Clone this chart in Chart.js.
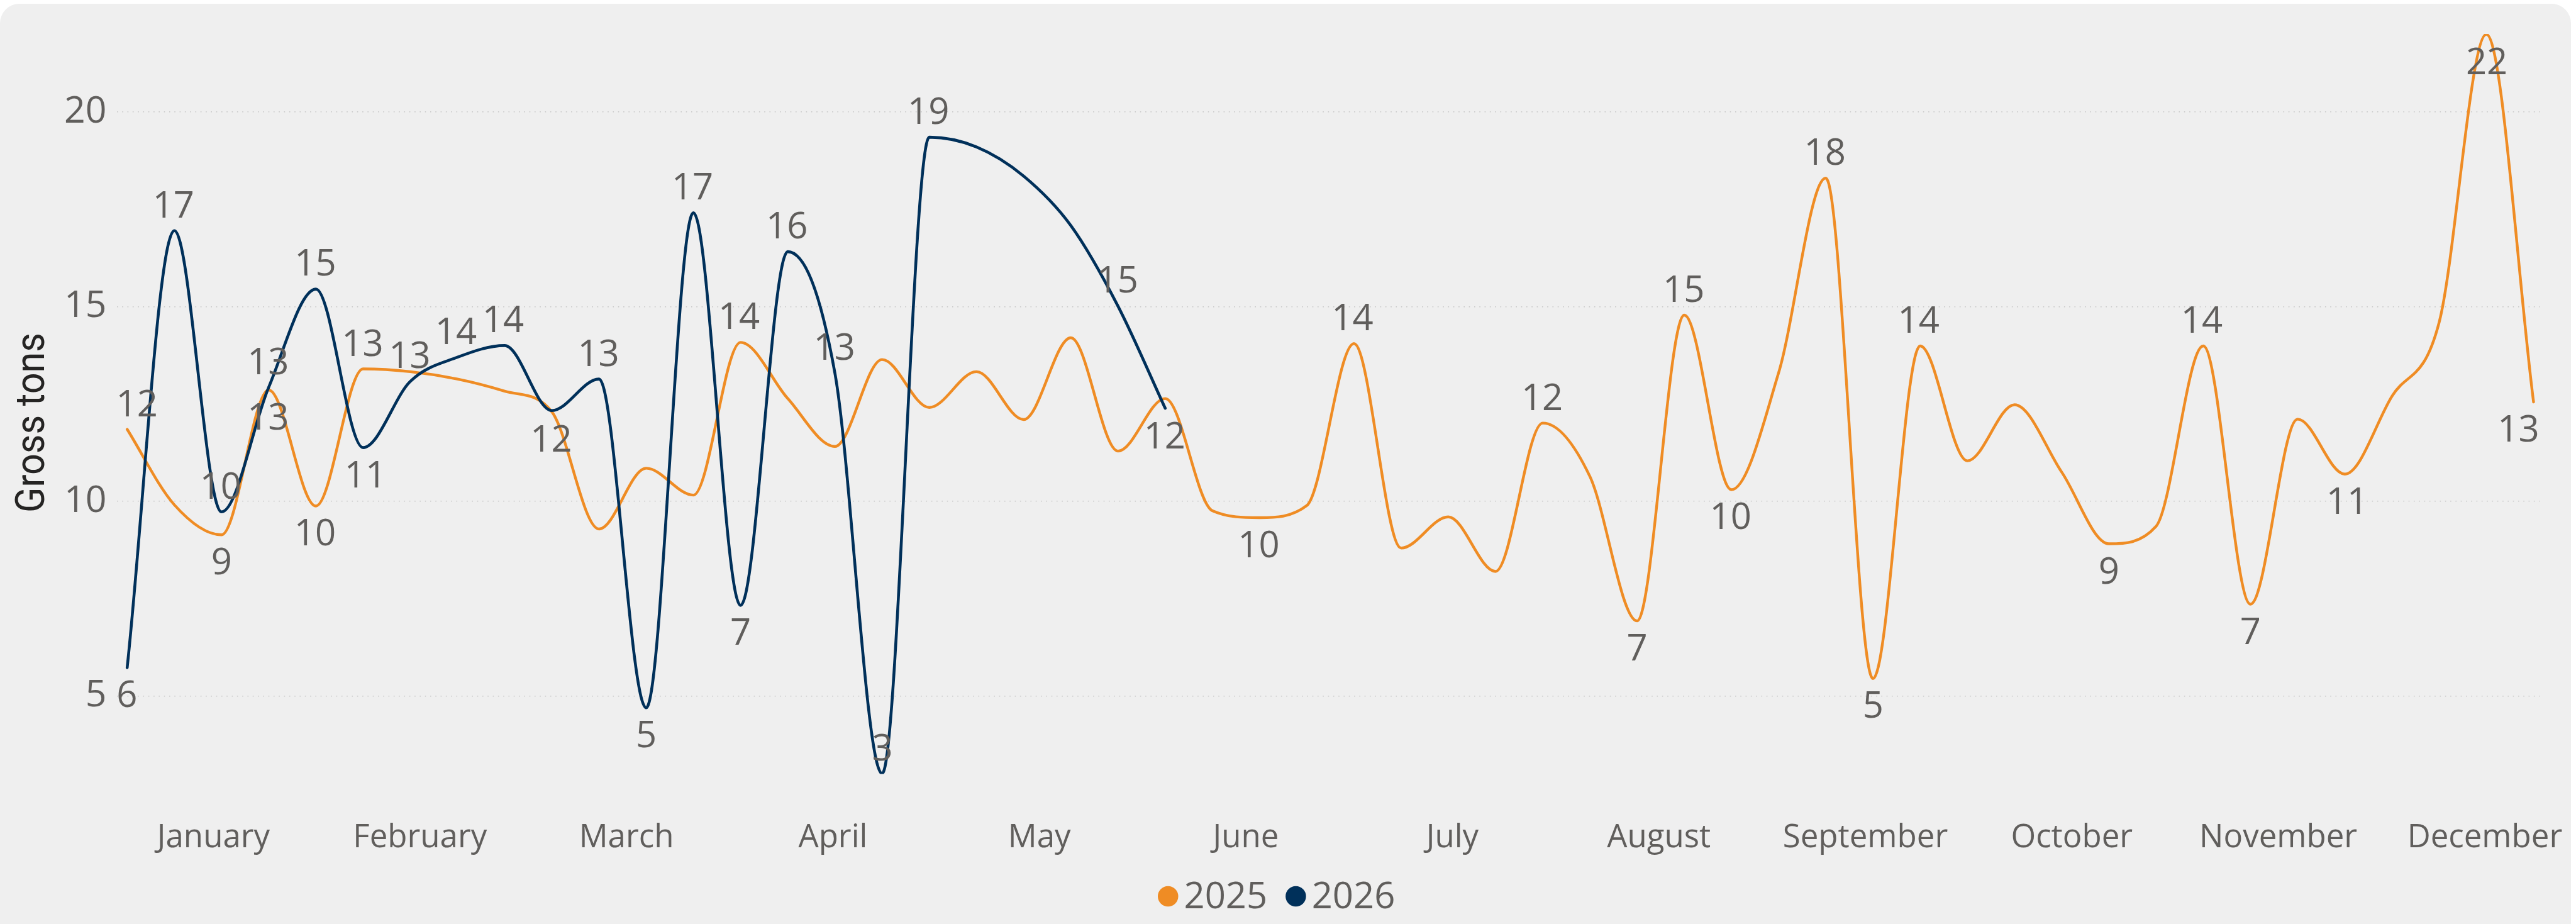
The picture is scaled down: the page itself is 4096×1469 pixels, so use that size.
<!DOCTYPE html>
<html>
<head>
<meta charset="utf-8">
<title>Gross tons by week</title>
<script src="https://cdn.jsdelivr.net/npm/chart.js@4.4.1/dist/chart.umd.min.js"></script>
<style>
  html, body { margin: 0; padding: 0; background: #ffffff; }
  body { width: 4096px; height: 1469px; position: relative; overflow: hidden; }
  .card { position: absolute; left: 0; top: 6px; width: 4088px; height: 1520px; background: #efefef; border-radius: 31px; }
  #grossChart { position: absolute; left: 0; top: 0; }
</style>
</head>
<body>
<div class="card"></div>
<canvas id="grossChart" width="4096" height="1469"></canvas>
<script>
// x categories: week of the year
const weeks = [1, 2, 3, 4, 5, 6, 7, 8, 9, 10, 11, 12, 13, 14, 15, 16, 17, 18, 19, 20, 21, 22, 23, 24, 25, 26,
  27, 28, 29, 30, 31, 32, 33, 34, 35, 36, 37, 38, 39, 40, 41, 42, 43, 44, 45, 46, 47, 48, 49, 50, 51, 52];
const monthLabels = ["January", "February", "March", "April", "May", "June", "July", "August",
  "September", "October", "November", "December"];
const yTickValues = [5, 10, 15, 20];

// Gross tons per week
const tons2025 = [11.85, 9.91, 9.14, 12.86, 9.88, 13.4, 13.33, 13.14, 12.83, 12.3, 9.29, 10.85, 10.16,
  14.08, 12.64, 11.41, 13.64, 12.41, 13.33, 12.1, 14.2, 11.29, 12.64, 9.76, 9.58, 9.89,
  14.05, 8.8, 9.6, 8.2, 12.01, 10.64, 6.93, 14.78, 10.3, 13.3, 18.3, 5.45, 13.99,
  11.04, 12.48, 10.75, 8.91, 9.36, 13.99, 7.36, 12.11, 10.7, 12.7, 14.6, 21.99, 12.55];
const tons2026 = [5.73, 16.95, 9.73, 12.93, 15.45, 11.38, 13.08, 13.7, 14.0, 12.33, 13.14, 4.7, 17.41,
  7.33, 16.41, 13.29, 3.01, 19.35, 19.1, 18.35, 17.08, 15.01, 12.39];

// weeks that carry a value label, and on which side of the line
const labelSide2025 = { 1: "above", 3: "below", 4: "below", 5: "below", 6: "above", 10: "below", 14: "above",
  25: "below", 27: "above", 31: "above", 33: "below", 34: "above", 35: "below", 37: "above", 38: "below",
  39: "above", 43: "below", 45: "above", 46: "below", 48: "below", 51: "below", 52: "below" };
const labelSide2026 = { 1: "below", 2: "above", 3: "above", 4: "above", 5: "above", 6: "below", 7: "above",
  8: "above", 9: "above", 11: "above", 12: "below", 13: "above", 14: "below", 15: "above", 16: "above",
  17: "above", 18: "above", 22: "above", 23: "below" };

const TEXT_COLOR = "#605e5c";
const FONT = "'Segoe UI', 'Open Sans', sans-serif";

function toPoints(values) {
  return values.map((v, i) => ({ x: weeks[i], y: v }));
}

// value labels next to the points, kept inside the plot area
const pointLabels = {
  id: "pointLabels",
  afterDatasetsDraw(chart) {
    const ctx = chart.ctx;
    const area = chart.chartArea;
    ctx.save();
    ctx.font = "58px " + FONT;
    ctx.fillStyle = TEXT_COLOR;
    ctx.textAlign = "left";
    ctx.textBaseline = "alphabetic";
    chart.data.datasets.forEach((ds, di) => {
      const meta = chart.getDatasetMeta(di);
      Object.keys(ds.labelSides).forEach((wk) => {
        const idx = Number(wk) - 1;
        const pt = meta.data[idx];
        if (!pt) return;
        const text = String(Math.round(ds.data[idx].y));
        const m = ctx.measureText(text);
        const half = m.width / 2;
        let cx = pt.x;
        if (cx - half < area.left) cx = area.left + half;
        if (cx + half > area.right) cx = area.right - half;
        const cy = pt.y + (ds.labelSides[wk] === "above" ? -42 : 42);
        const inkW = m.actualBoundingBoxLeft + m.actualBoundingBoxRight;
        const x = cx - inkW / 2 + m.actualBoundingBoxLeft;
        const y = cy + (m.actualBoundingBoxAscent - m.actualBoundingBoxDescent) / 2;
        ctx.fillText(text, x, y);
      });
    });
    ctx.restore();
  },
};

// axis title and legend
const extras = {
  id: "extras",
  afterDraw(chart) {
    const ctx = chart.ctx;
    ctx.save();
    // y axis title
    ctx.translate(46.6, 672);
    ctx.rotate(-Math.PI / 2);
    ctx.font = "65px Roboto, 'Open Sans', sans-serif";
    ctx.fillStyle = "#252423";
    ctx.textAlign = "center";
    ctx.textBaseline = "alphabetic";
    ctx.fillText("Gross tons", 0, 23.3, 286);
    ctx.restore();

    // legend
    ctx.save();
    ctx.font = "58px " + FONT;
    ctx.textAlign = "left";
    ctx.textBaseline = "middle";
    let x = 1841;
    const cy = 1425;
    chart.data.datasets.forEach((ds) => {
      ctx.fillStyle = ds.borderColor;
      ctx.beginPath();
      ctx.arc(x + 16.25, cy, 16.25, 0, Math.PI * 2);
      ctx.fill();
      x += 32.5 + 9;
      ctx.fillStyle = TEXT_COLOR;
      ctx.fillText(ds.label, x, cy + 2);
      x += ctx.measureText(ds.label).width + 29;
    });
    ctx.restore();
  },
};

new Chart(document.getElementById("grossChart"), {
  type: "line",
  data: {
    datasets: [
      {
        label: "2025",
        data: toPoints(tons2025),
        borderColor: "#ef8c24",
        borderWidth: 4.4,
        pointRadius: 0,
        cubicInterpolationMode: "monotone",
        borderCapStyle: "round",
        borderJoinStyle: "round",
        fill: false,
        order: 1,
        labelSides: labelSide2025,
      },
      {
        label: "2026",
        data: toPoints(tons2026),
        borderColor: "#00305a",
        borderWidth: 4.6,
        pointRadius: 0,
        cubicInterpolationMode: "monotone",
        borderCapStyle: "round",
        borderJoinStyle: "round",
        fill: false,
        order: 0,
        labelSides: labelSide2026,
      },
    ],
  },
  options: {
    responsive: false,
    animation: false,
    devicePixelRatio: 1,
    events: [],
    layout: { padding: { top: 54, right: 57.5, bottom: 0, left: 0 } },
    plugins: {
      legend: { display: false },
      tooltip: { enabled: false },
      title: { display: false },
    },
    scales: {
      x: {
        type: "linear",
        bounds: "data",
        min: 0.7774,
        max: 52.133,
        grid: { display: false, drawTicks: false },
        border: { display: false },
        afterBuildTicks: (scale) => {
          scale.ticks = monthLabels.map((m, i) => ({ value: 2.83 + i * 4.376 }));
        },
        afterFit: (scale) => {
          scale.height = 238.5;
          scale.paddingLeft = 0;
          scale.paddingRight = 0;
        },
        ticks: {
          autoSkip: false,
          maxRotation: 0,
          padding: 71,
          color: TEXT_COLOR,
          font: { family: FONT, size: 51, lineHeight: 1.2 },
          callback: (value, index) => monthLabels[index],
        },
      },
      y: {
        type: "linear",
        bounds: "data",
        min: 3,
        max: 22,
        grid: { color: "#c6c6c6", lineWidth: 1.6, drawTicks: false },
        border: { display: false, dash: [1.6, 6.7] },
        afterBuildTicks: (scale) => {
          scale.ticks = yTickValues.map((v) => ({ value: v }));
        },
        afterFit: (scale) => {
          scale.width = 185.5;
          scale.paddingTop = 0;
          scale.paddingBottom = 0;
        },
        ticks: {
          padding: 16,
          color: TEXT_COLOR,
          font: { family: FONT, size: 59 },
        },
      },
    },
  },
  plugins: [pointLabels, extras],
});
</script>
</body>
</html>
